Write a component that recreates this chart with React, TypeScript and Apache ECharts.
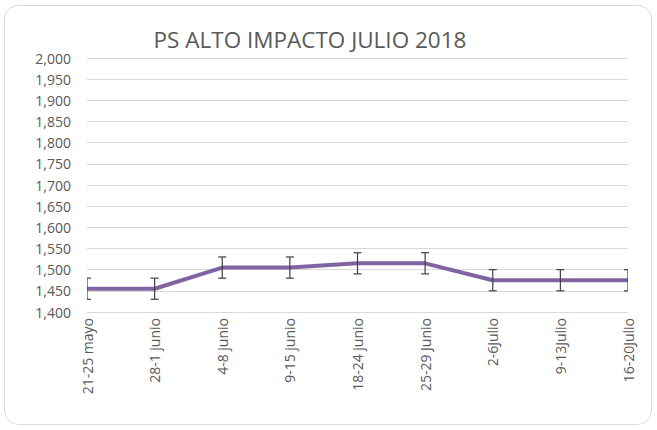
import React, { useEffect, useRef } from "react";
import * as echarts from "echarts";

const categories = ["21-25 mayo", "28-1 junio", "4-8 junio", "9-15 junio", "18-24 junio", "25-29 Junio", "2-6Julio", "9-13Julio", "16-20Julio"];
const values = [1455, 1455, 1505, 1505, 1515, 1515, 1475, 1475, 1475];
const errorPlusMinus = [25, 25, 25, 25, 25, 25, 25, 25, 25];
const titleText = "PS ALTO IMPACTO JULIO 2018";

export default function App() {
  const ref = useRef<HTMLDivElement>(null);
  useEffect(() => {
    document.body.style.margin = "0";
    const chart = echarts.init(ref.current!, null, { renderer: "svg" });
    const errData = values.map((v, i) => [i, v - errorPlusMinus[i], v + errorPlusMinus[i]]);
    chart.setOption({
      animation: false,
      backgroundColor: "#fff",
      graphic: [
        {
          type: "rect",
          shape: { x: 4.5, y: 5.5, width: 647, height: 419, r: 14 },
          style: { fill: "none", stroke: "#d9d9d9", lineWidth: 1 },
          silent: true,
        },
      ],
      title: {
        text: titleText,
        left: 305,
        textAlign: "center",
        top: 23,
        textStyle: { fontFamily: "Open Sans", fontSize: 22.5, fontWeight: "normal", color: "#595959" },
      },
      grid: { left: 87, right: 29, top: 58, bottom: 118, containLabel: false },
      xAxis: {
        type: "category",
        data: categories,
        boundaryGap: false,
        axisLine: { lineStyle: { color: "#d9d9d9" } },
        axisTick: { show: false },
        axisLabel: {
          rotate: 90,
          interval: 0,
          color: "#595959",
          fontFamily: "Open Sans",
          fontSize: 14,
          margin: 6,
        },
      },
      yAxis: {
        type: "value",
        min: 1400,
        max: 2000,
        interval: 50,
        axisLine: { show: false },
        axisTick: { show: false },
        splitLine: { lineStyle: { color: "#d9d9d9" } },
        axisLabel: {
          color: "#595959",
          fontFamily: "Open Sans",
          fontSize: 14,
          margin: 16,
          formatter: (v: number) => v.toLocaleString("en-US"),
        },
      },
      series: [
        {
          type: "line",
          data: values,
          symbol: "none",
          lineStyle: { color: "#8064A2", width: 4 },
          z: 2,
        },
        {
          type: "custom",
          data: errData,
          z: 3,
          clip: true,
          renderItem: (params: any, api: any) => {
            const x = api.value(0);
            const lo = api.coord([x, api.value(1)]);
            const hi = api.coord([x, api.value(2)]);
            const hw = 4;
            const style = { stroke: "#404040", lineWidth: 1.2 };
            return {
              type: "group",
              children: [
                { type: "line", shape: { x1: lo[0], y1: lo[1], x2: hi[0], y2: hi[1] }, style },
                { type: "line", shape: { x1: lo[0] - hw, y1: lo[1], x2: lo[0] + hw, y2: lo[1] }, style },
                { type: "line", shape: { x1: hi[0] - hw, y1: hi[1], x2: hi[0] + hw, y2: hi[1] }, style },
              ],
            };
          },
        },
      ],
    });
    return () => chart.dispose();
  }, []);
  return <div ref={ref} style={{ position: "fixed", left: 0, top: 0, width: 657, height: 430 }} />;
}
